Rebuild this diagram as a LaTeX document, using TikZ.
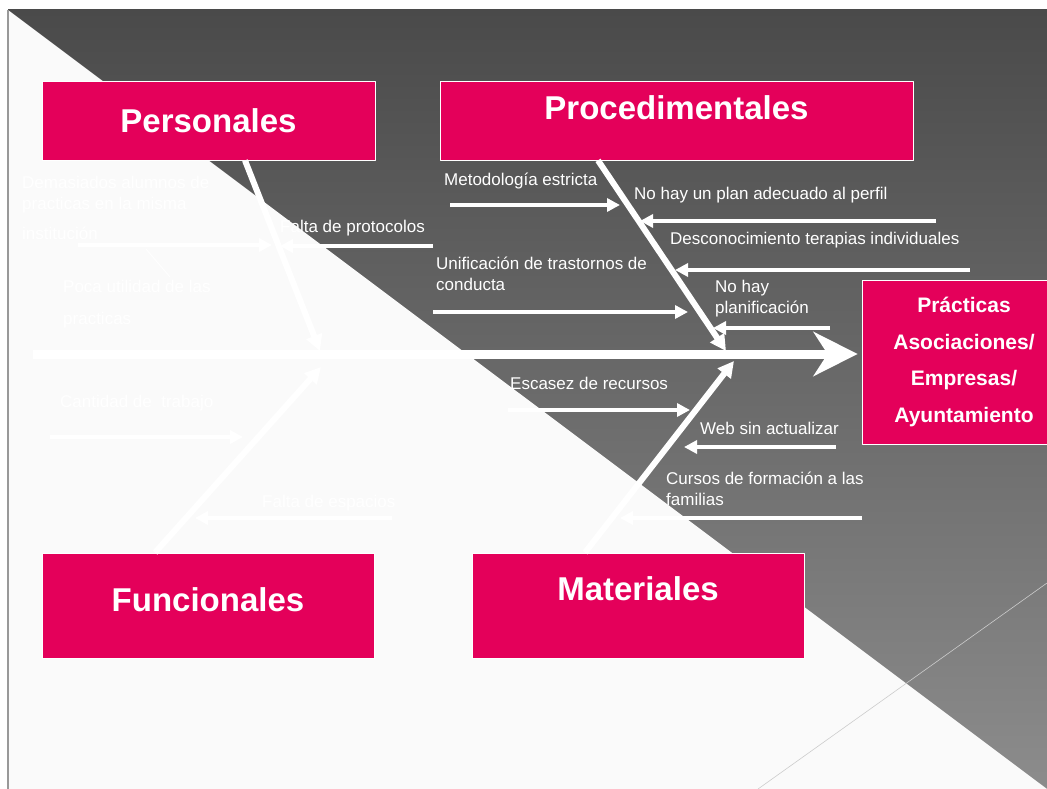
\documentclass[tikz,border=0pt]{standalone}
\usepackage{fontspec}
\setmainfont{Liberation Sans}
\usetikzlibrary{arrows.meta}
\definecolor{rosa}{RGB}{228,0,90}
\definecolor{fondoA}{RGB}{74,74,74}
\definecolor{fondoM}{RGB}{94,94,94}
\definecolor{fondoB}{RGB}{140,140,140}
\definecolor{papel}{RGB}{250,250,250}
\begin{document}
\begin{tikzpicture}[x=1pt,y=-1pt,line join=round,font=\fontsize{17}{21}\selectfont,
  caja/.style={draw=white,line width=.8pt,fill=rosa,text=white,inner sep=0pt,font=\fontsize{33}{40}\selectfont\bfseries},
  espina/.style={white,line width=9pt,-{Stealth[length=44pt,width=44pt,inset=14pt]}},
  hueso/.style={white,line width=6pt,-{Triangle[length=16pt,width=16pt]}},
  rama/.style={white,line width=4pt,-{Triangle[length=13pt,width=13pt]}},
  causa/.style={white,anchor=west,inner sep=0pt,align=left}]
% fondo
\useasboundingbox (0,0) rectangle (1047,789);
\fill[white] (0,0) rectangle (1047,789);
\shade[top color=fondoA,middle color=fondoM,bottom color=fondoB] (8,10) rectangle (1047,789);
\fill[papel] (8,10) -- (1047,789) -- (8,789) -- cycle;
\draw[gray!80,line width=1.2pt] (8,10) -- (8,789);
\draw[gray!40,line width=.6pt] (758,789) -- (1047,583);
% cajas
\node[caja,minimum width=333pt,minimum height=79pt] (pers) at (208.5,120.5) {Personales};
\node[caja,minimum width=473pt,minimum height=79pt] (proc) at (676.5,120.5) {\raisebox{25pt}{Procedimentales}};
\node[caja,minimum width=332pt,minimum height=105pt] (func) at (208,605.5) {\raisebox{11pt}{Funcionales}};
\node[caja,minimum width=332pt,minimum height=105pt] (mat) at (638,605.5) {\raisebox{33pt}{Materiales}};
\node[caja,minimum width=204pt,minimum height=164pt,align=center,font=\fontsize{21}{36.5}\selectfont\bfseries] (efecto) at (964,362) {Prácticas\\Asociaciones/\\Empresas/\\Ayuntamiento};
% causas
\node[causa] (demasiados) at (22,208) {Demasiados alumnos de\\practicas en la misma\\[9pt]institución};
\node[causa] (protocolos) at (280,228) {Falta de protocolos};
\node[causa] (utilidad) at (63,304) {Poca utilidad de las\\[11pt]practicas};
\node[causa] (cantidad) at (60,403) {Cantidad de \ trabajo};
\node[causa] (espacios) at (262,503) {Falta de espacios};
\node[causa] (metodo) at (444,181) {Metodología estricta};
\node[causa] (plan) at (634,195) {No hay un plan adecuado al perfil};
\node[causa] (terapias) at (670,240) {Desconocimiento terapias individuales};
\node[causa] (trastornos) at (436,273.5) {Unificación de trastornos de\\conducta};
\node[causa] (planif) at (715,298.5) {No hay\\planificación};
\node[causa] (recursos) at (510,383) {Escasez de recursos};
\node[causa] (web) at (700,428) {Web sin actualizar};
\node[causa] (cursos) at (666,488.5) {Cursos de formación a las\\familias};
% ramas
\foreach \n/\xa/\xb/\y in {a/78/272/245, b/433/280/246, c/50/243/437, d/392/195/518,
  e/450/620/205, f/936/640/221, g/970/675/270, h/433/688/312, i/830/713/328,
  j/508/690/410, k/836/684/447, l/862/620/518}{
  \coordinate (r\n0) at (\xa,\y);
  \coordinate (r\n1) at (\xb,\y);
  \draw[rama] (r\n0) -- (r\n1);
}
\coordinate (u0) at (170,277);
\coordinate (u1) at (146,249);
\draw[white,line width=.8pt] (u0) -- (u1);
% huesos
\coordinate (pT) at (320,351);
\coordinate (prT) at (726,351);
\coordinate (fT) at (321,367);
\coordinate (mT) at (734,361);
\draw[hueso] ([xshift=36.5pt]pers.south) -- (pT);
\draw[hueso] ([xshift=-78.5pt]proc.south) -- (prT);
\draw[hueso] ([xshift=-53pt]func.north) -- (fT);
\draw[hueso] ([xshift=-53pt]mat.north) -- (mT);
% espina
\coordinate (cola) at (33,354);
\draw[espina,shorten >=4pt] (cola) -- (cola -| efecto.west);
\end{tikzpicture}
\end{document}
